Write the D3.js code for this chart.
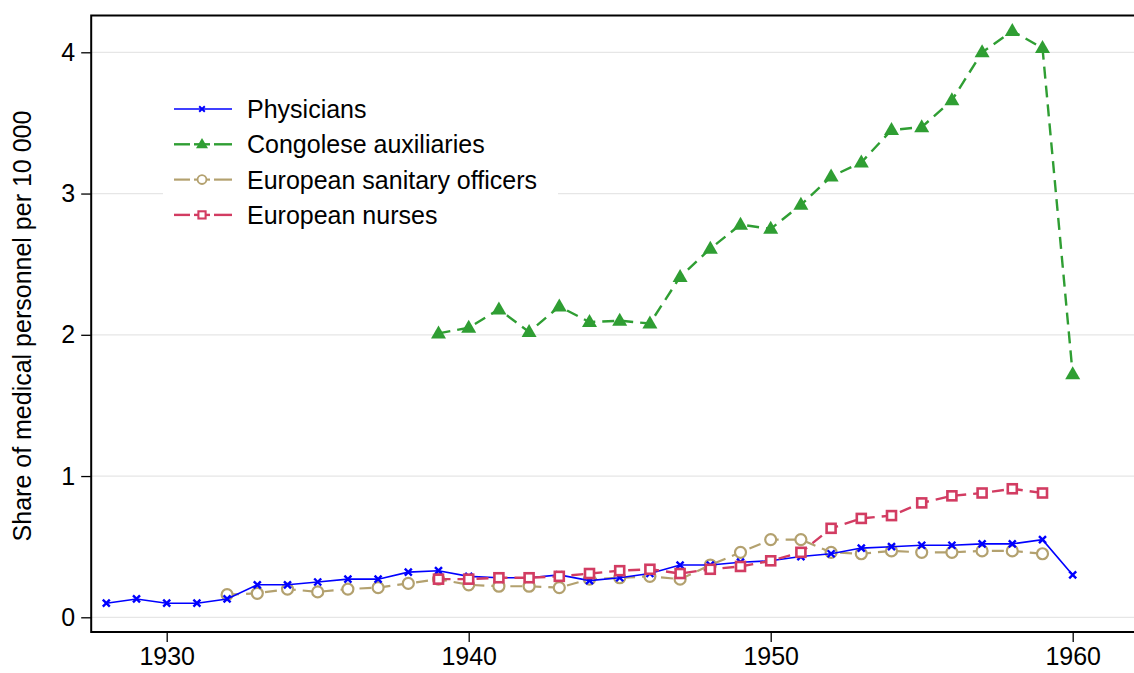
<!DOCTYPE html>
<html>
<head>
<meta charset="utf-8">
<script src="https://cdn.jsdelivr.net/npm/d3@7"></script>
<style>
  body { margin: 0; background: #fff; }
  svg { display: block; font-family: "Liberation Sans", Arial, sans-serif; }
</style>
</head>
<body>
<div id="container"></div>
<script>
/* CONSTANTS AND GLOBALS */
const width = 1134,
  height = 673,
  fontSize = 25

/* DATA */
const physYears = d3.range(1928, 1961)
const physicians = [0.10, 0.13, 0.10, 0.10, 0.13, 0.23, 0.23, 0.25, 0.27, 0.27,
  0.32, 0.33, 0.29, 0.28, 0.28, 0.30, 0.26, 0.28, 0.31, 0.37, 0.37, 0.39, 0.40,
  0.43, 0.45, 0.49, 0.50, 0.51, 0.51, 0.52, 0.52, 0.55, 0.30]

const congYears = d3.range(1939, 1961)
const congolese = [2.01, 2.05, 2.18, 2.02, 2.20, 2.09, 2.10, 2.08, 2.41, 2.61,
  2.78, 2.75, 2.92, 3.12, 3.22, 3.45, 3.47, 3.66, 4.00, 4.15, 4.03, 1.72]

const sanYears = d3.range(1932, 1960)
const sanitary = [0.16, 0.17, 0.20, 0.18, 0.20, 0.21, 0.24, 0.27, 0.23, 0.22,
  0.22, 0.21, 0.27, 0.28, 0.29, 0.27, 0.37, 0.46, 0.55, 0.55, 0.46, 0.45, 0.47,
  0.46, 0.46, 0.47, 0.47, 0.45]

const nurseYears = d3.range(1939, 1960)
const nurses = [0.27, 0.27, 0.28, 0.28, 0.29, 0.31, 0.33, 0.34, 0.31, 0.34,
  0.36, 0.40, 0.46, 0.63, 0.70, 0.72, 0.81, 0.86, 0.88, 0.91, 0.88]

const xTicks = [1930, 1940, 1950, 1960]
const yTicks = [0, 1, 2, 3, 4]

// drawing order (back to front)
const series = [
  { name: 'European sanitary officers', years: sanYears, values: sanitary, color: '#b3a16f', dash: '12,7', width: 2.2, marker: 'circle' },
  { name: 'Physicians', years: physYears, values: physicians, color: '#0000ff', dash: null, width: 1.6, marker: 'cross' },
  { name: 'European nurses', years: nurseYears, values: nurses, color: '#d23c62', dash: '12,7', width: 2.4, marker: 'square' },
  { name: 'Congolese auxiliaries', years: congYears, values: congolese, color: '#2f9e33', dash: '12,7', width: 2.4, marker: 'triangle' }
]
const legendOrder = ['Physicians', 'Congolese auxiliaries', 'European sanitary officers', 'European nurses']

/* SCALES */
const xScale = d3.scaleLinear()
  .domain([1927.5, 1962.5])
  .range([91.2, 1148.2])

const yScale = d3.scaleLinear()
  .domain([0, 4])
  .range([617.3, 52.3])

const plotTop = 15.5, plotBottom = 632, plotLeft = 91.2, plotRight = 1148

const svg = d3.select('#container')
  .append('svg')
  .attr('width', width)
  .attr('height', height)

// gridlines
svg.append('g')
  .selectAll('line')
  .data(yTicks)
  .join('line')
  .attr('x1', plotLeft)
  .attr('x2', plotRight)
  .attr('y1', d => yScale(d))
  .attr('y2', d => yScale(d))
  .attr('stroke', '#e6e6e6')
  .attr('stroke-width', 1.2)

// markers
function drawMarker(g, type, color) {
  if (type === 'cross') {
    g.append('path').attr('d', 'M-3.5,-3.5L3.5,3.5M-3.5,3.5L3.5,-3.5')
      .attr('stroke', color).attr('stroke-width', 2.4).attr('fill', 'none')
  } else if (type === 'triangle') {
    g.append('path').attr('d', 'M0,-8L7.5,5L-7.5,5Z').attr('fill', color)
  } else if (type === 'circle') {
    g.append('circle').attr('r', 5.5).attr('fill', 'white')
      .attr('stroke', color).attr('stroke-width', 2.2)
  } else if (type === 'square') {
    g.append('rect').attr('x', -4.5).attr('y', -4.5).attr('width', 9).attr('height', 9)
      .attr('fill', 'white').attr('stroke', color).attr('stroke-width', 2.6)
  }
}

const line = d3.line()
  .x(d => xScale(d[0]))
  .y(d => yScale(d[1]))

series.forEach(s => {
  const pts = s.years.map((y, i) => [y, s.values[i]])
  const g = svg.append('g')
  g.append('path')
    .datum(pts)
    .attr('d', line)
    .attr('fill', 'none')
    .attr('stroke', s.color)
    .attr('stroke-width', s.width)
    .attr('stroke-dasharray', s.dash)
  g.selectAll('g.pt')
    .data(pts)
    .join('g')
    .attr('class', 'pt')
    .attr('transform', d => `translate(${xScale(d[0])},${yScale(d[1])})`)
    .each(function () { drawMarker(d3.select(this), s.marker, s.color) })
})

// frame
svg.append('path')
  .attr('d', `M${plotRight},${plotTop}H${plotLeft}V${plotBottom}H${plotRight}`)
  .attr('fill', 'none')
  .attr('stroke', '#000')
  .attr('stroke-width', 2)

// axes
const xAxis = d3.axisBottom(xScale).tickValues(xTicks).tickFormat(d3.format('d'))
  .tickSize(10).tickPadding(5)
const yAxis = d3.axisLeft(yScale).tickValues(yTicks).tickFormat(d3.format('d'))
  .tickSize(10).tickPadding(6)

const gx = svg.append('g')
  .attr('transform', `translate(0,${plotBottom})`)
  .call(xAxis)
gx.select('.domain').remove()
gx.selectAll('text').attr('font-size', fontSize).attr('fill', '#000')
  .attr('font-family', '"Liberation Sans", Arial, sans-serif')
gx.selectAll('line').attr('stroke-width', 1.3)

const gy = svg.append('g')
  .attr('transform', `translate(${plotLeft},0)`)
  .call(yAxis)
gy.select('.domain').remove()
gy.selectAll('text').attr('font-size', fontSize).attr('fill', '#000')
  .attr('font-family', '"Liberation Sans", Arial, sans-serif')
gy.selectAll('line').attr('stroke-width', 1.3)

// y title
svg.append('text')
  .attr('transform', 'translate(31,326) rotate(-90)')
  .attr('text-anchor', 'middle')
  .attr('font-size', fontSize)
  .text('Share of medical personnel per 10 000')

// legend
const legend = svg.append('g')
legend.append('rect')
  .attr('x', 163).attr('y', 88).attr('width', 395).attr('height', 146)
  .attr('fill', 'white')

legendOrder.forEach((name, i) => {
  const s = series.find(d => d.name === name)
  const cy = 109 + i * 35.3
  const g = legend.append('g').attr('transform', `translate(0,${cy})`)
  const segs = s.dash ? [[174, 190], [194, 210], [214, 232]] : [[174, 232]]
  segs.forEach(([a, b]) => {
    g.append('line').attr('x1', a).attr('x2', b).attr('y1', 0).attr('y2', 0)
      .attr('stroke', s.color).attr('stroke-width', s.width)
  })
  const m = g.append('g').attr('transform', 'translate(202,0) scale(0.8)')
  drawMarker(m, s.marker, s.color)
  g.append('text')
    .attr('x', 247)
    .attr('y', 9)
    .attr('font-size', fontSize)
    .text(name)
})
</script>
</body>
</html>
